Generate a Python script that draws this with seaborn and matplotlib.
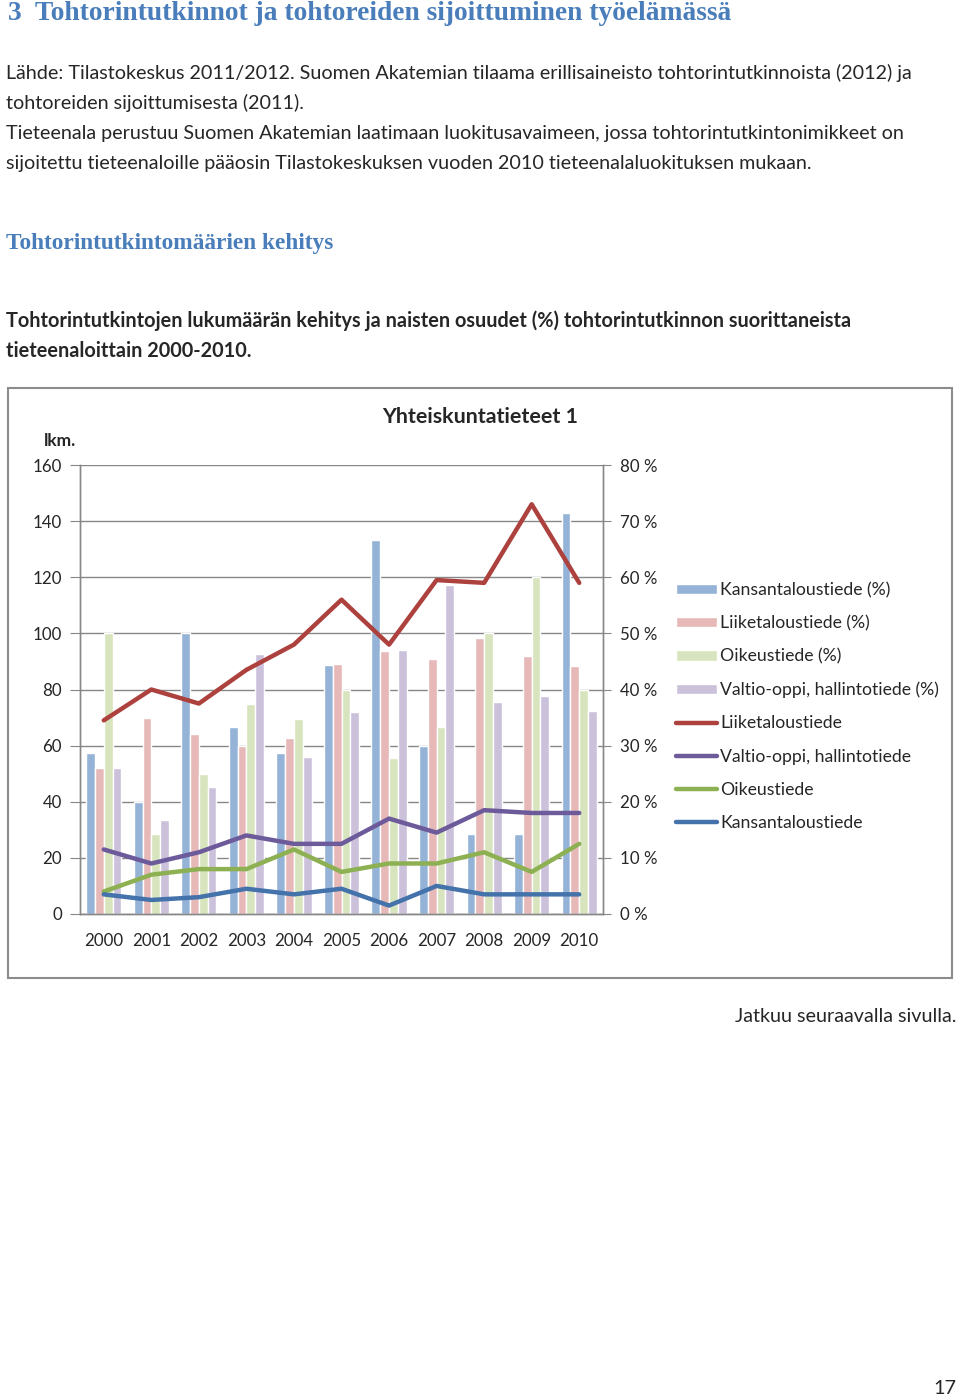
import numpy as np
import pandas as pd
import seaborn as sns
import matplotlib.pyplot as plt
from matplotlib.patches import Rectangle
from matplotlib.ticker import FuncFormatter

years = ['2000', '2001', '2002', '2003', '2004', '2005', '2006', '2007', '2008', '2009', '2010']

# naisten osuudet (%) - pylväät, oikea akseli
kansantalous_pct = [28.6, 20.0, 50.0, 33.3, 28.6, 44.4, 66.7, 30.0, 14.3, 14.3, 71.4]
liiketalous_pct = [26.1, 35.0, 32.0, 29.9, 31.3, 44.6, 46.9, 45.4, 49.2, 45.9, 44.1]
oikeus_pct = [50.0, 14.3, 25.0, 37.5, 34.8, 40.0, 27.8, 33.3, 50.0, 60.0, 40.0]
valtio_pct = [26.1, 16.7, 22.7, 46.4, 28.0, 36.0, 47.1, 58.6, 37.8, 38.9, 36.1]

# tutkintojen lukumäärät - viivat, vasen akseli
liiketalous_lkm = [69, 80, 75, 87, 96, 112, 96, 119, 118, 146, 118]
valtio_lkm = [23, 18, 22, 28, 25, 25, 34, 29, 37, 36, 36]
oikeus_lkm = [8, 14, 16, 16, 23, 15, 18, 18, 22, 15, 25]
kansantalous_lkm = [7, 5, 6, 9, 7, 9, 3, 10, 7, 7, 7]

bar_names = ['Kansantaloustiede (%)', 'Liiketaloustiede (%)', 'Oikeustiede (%)',
             'Valtio-oppi, hallintotiede (%)']
bar_colors = ['#95B3D7', '#E6B9B8', '#D7E4BD', '#CCC1DA']
line_names = ['Liiketaloustiede', 'Valtio-oppi, hallintotiede', 'Oikeustiede', 'Kansantaloustiede']
line_colors = ['#AC413D', '#6C5A9A', '#8CB052', '#4472AA']

pct = pd.DataFrame({'Vuosi': years,
                    bar_names[0]: kansantalous_pct,
                    bar_names[1]: liiketalous_pct,
                    bar_names[2]: oikeus_pct,
                    bar_names[3]: valtio_pct})
pct_long = pct.melt(id_vars='Vuosi', var_name='Tieteenala', value_name='Osuus')
line_vals = [liiketalous_lkm, valtio_lkm, oikeus_lkm, kansantalous_lkm]

sns.set_style('white')
plt.rcParams['font.family'] = ['Lato', 'DejaVu Sans']

W, H = 960, 1397
fig = plt.figure(figsize=(W / 100, H / 100), dpi=100)


def fy(py):
    return 1 - py / H


blue_head = '#4A7EBB'
serif = ['Liberation Serif', 'DejaVu Serif']
fig.text(8 / W, fy(13), '3  Tohtorintutkinnot ja tohtoreiden sijoittuminen työelämässä',
         family=serif, weight='bold', fontsize=19.8, color=blue_head, va='center')
body = [
    (73, 'Lähde: Tilastokeskus 2011/2012. Suomen Akatemian tilaama erillisaineisto tohtorintutkinnoista (2012) ja'),
    (103, 'tohtoreiden sijoittumisesta (2011).'),
    (134, 'Tieteenala perustuu Suomen Akatemian laatimaan luokitusavaimeen, jossa tohtorintutkintonimikkeet on'),
    (164, 'sijoitettu tieteenaloille pääosin Tilastokeskuksen vuoden 2010 tieteenalaluokituksen mukaan.'),
]
for py, txt in body:
    fig.text(6 / W, fy(py), txt, fontsize=14.2, va='center')
fig.text(6 / W, fy(243), 'Tohtorintutkintomäärien kehitys', family=serif, weight='bold',
         fontsize=16.8, color=blue_head, va='center')
fig.text(6 / W, fy(321), 'Tohtorintutkintojen lukumäärän kehitys ja naisten osuudet (%) tohtorintutkinnon suorittaneista',
         fontsize=14.3, weight='bold', va='center')
fig.text(6 / W, fy(351), 'tieteenaloittain 2000-2010.', fontsize=14.3, weight='bold', va='center')
fig.text(956 / W, fy(1017), 'Jatkuu seuraavalla sivulla.', fontsize=14.2, ha='right', va='center')
fig.text(956 / W, fy(1388), '17', fontsize=14.2, ha='right', va='center')

# kaavion kehys
fig.add_artist(Rectangle((8 / W, fy(978)), 944 / W, 590 / H, transform=fig.transFigure,
                         fill=False, edgecolor='#8C8C8C', lw=1.5))
fig.text(480 / W, fy(417), 'Yhteiskuntatieteet 1', fontsize=15.4, weight='bold', ha='center', va='center')
fig.text(44 / W, fy(441), 'lkm.', fontsize=12.5, weight='bold', ha='left', va='center')

grid_c = '#878787'
ax = fig.add_axes([80 / W, fy(914), 523 / W, 449 / H])
sns.barplot(data=pct_long, x='Vuosi', y='Osuus', hue='Tieteenala', palette=bar_colors,
            width=0.74, saturation=1, ax=ax)
ax.set_ylim(0, 80)
ax.set_axisbelow(True)
ax.grid(axis='y', color=grid_c, lw=1)

ax2 = ax.twinx()
for name, vals, col in zip(line_names, line_vals, line_colors):
    sns.lineplot(x=np.arange(len(years)), y=vals, ax=ax2, color=col, lw=3.2, label=name)
ax2.set_ylim(0, 160)

ax.set_xlim(-0.5, len(years) - 0.5)
ax.set_xticks(np.arange(len(years)))
ax.set_xticklabels(years)
ax.set_xticks(np.arange(len(years) + 1) - 0.5, minor=True)
ax.tick_params(axis='x', which='major', length=0, labelsize=12.2, pad=14)
ax.tick_params(axis='x', which='minor', length=5, color=grid_c, direction='out')
ax.set_xlabel('')
ax.set_ylabel('')
ax2.set_ylabel('')

ax.yaxis.set_ticks_position('right')
ax.set_yticks(np.arange(0, 81, 10))
ax.yaxis.set_major_formatter(FuncFormatter(lambda v, p: f'{int(v)} %'))
ax.tick_params(axis='y', length=6, color=grid_c, labelsize=12.2, pad=6, direction='out')
ax2.yaxis.set_ticks_position('left')
ax2.set_yticks(np.arange(0, 161, 20))
ax2.tick_params(axis='y', length=7, color=grid_c, labelsize=12.2, pad=6, direction='out')

for a in (ax, ax2):
    for s in ('left', 'right', 'bottom'):
        a.spines[s].set_color(grid_c)
        a.spines[s].set_linewidth(1)
    a.spines['top'].set_visible(False)

h1, l1 = ax.get_legend_handles_labels()
h2, l2 = ax2.get_legend_handles_labels()
ax.legend_.remove()
ax2.legend_.remove()
fig.legend(h1 + h2, l1 + l2, loc='upper left', bbox_to_anchor=(669 / W, fy(575)),
           frameon=False, fontsize=12.7, handlelength=2.3, handleheight=0.55,
           handletextpad=0.2, labelspacing=0.97, borderaxespad=0)

fig.savefig('out.png', dpi=100, facecolor='white')
